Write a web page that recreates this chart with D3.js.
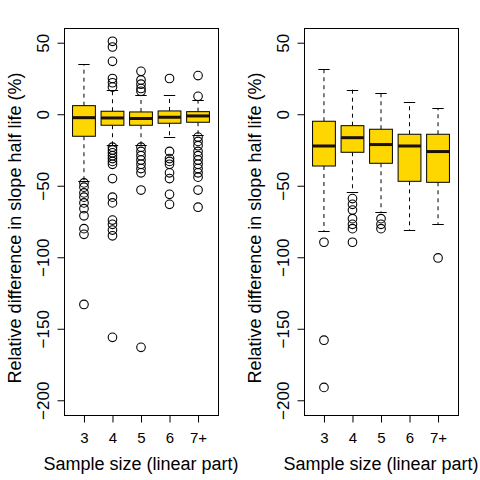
<!DOCTYPE html>
<html><head><meta charset="utf-8">
<script src="https://cdn.jsdelivr.net/npm/d3@7"></script>
<style>body{margin:0;background:#fff}svg{display:block}text{font-family:"Liberation Sans",Arial,sans-serif;fill:#000}</style>
</head><body><svg id="c" width="480" height="480"></svg>
<script>
const categories = ["3","4","5","6","7+"];
const yTicks = [-200,-150,-100,-50,0,50];
// [lower whisker, Q1, median, Q3, upper whisker]
const leftStats = [
  [-46.4,-15.4,-2.4,6.0,35],
  [-21.5,-7.7,-2.6,2.1,17],
  [-21.5,-7.7,-3.0,1.6,13.5],
  [-16.1,-6.3,-2.1,2.3,13.5],
  [-14.5,-5.6,-1.2,1.8,10]
];
const leftOutliers = [
  [-48,-51,-55,-58,-62,-66,-71,-80,-84,-133],
  [51,47,37,25,22,19,-23,-25,-27,-29,-31,-33,-35,-45,-58,-62,-74,-77,-81,-85,-156],
  [30,24,21,18,16,-23,-26,-29,-32,-35,-38,-41,-53,-163],
  [25,-26,-31,-33,-35,-41,-45,-56,-63],
  [27,12.5,-16,-19,-22,-26,-29,-32,-35,-38,-41,-44,-53,-65]
];
const rightStats = [
  [-81.6,-36.2,-22.2,-4.9,31.9],
  [-54.1,-26.6,-16.4,-8.0,17.2],
  [-68.5,-34.3,-21.2,-10.5,14.7],
  [-80.9,-46.9,-22.2,-14.0,8.6],
  [-76.7,-47.6,-26.1,-14.0,4.2]
];
const rightOutliers = [
  [-89.5,-158,-191],
  [-59,-63,-67,-73,-77,-80,-89.5],
  [-73,-77,-80],
  [],
  [-100.5]
];
const xTitle = "Sample size (linear part)";
const yTitle = "Relative difference in slope half life (%)";

const svg = d3.select("#c");
const fill = "#FFD700";

function panel(offsetX, stats, outliers) {
  const g = svg.append("g").attr("transform", `translate(${offsetX},0)`);
  const x = d3.scaleLinear().domain([0.3, 5.7]).range([64, 218]);
  const y = d3.scaleLinear().domain([-210.3, 60.3]).range([415, 28]);
  const bw = 0.4;
  const data = categories.map((c, i) => ({c, i: i + 1, s: stats[i], o: outliers[i]}));

  const b = g.selectAll("g.box").data(data).join("g").attr("class", "box");
  // whiskers
  b.append("line").attr("x1", d => x(d.i)).attr("x2", d => x(d.i))
    .attr("y1", d => y(d.s[3])).attr("y2", d => y(d.s[4]))
    .attr("stroke", "#000").attr("stroke-dasharray", "4,4");
  b.append("line").attr("x1", d => x(d.i)).attr("x2", d => x(d.i))
    .attr("y1", d => y(d.s[1])).attr("y2", d => y(d.s[0]))
    .attr("stroke", "#000").attr("stroke-dasharray", "4,4");
  // staples
  [0, 4].forEach(k => {
    b.append("line").attr("x1", d => x(d.i - bw / 2)).attr("x2", d => x(d.i + bw / 2))
      .attr("y1", d => Math.round(y(d.s[k])) + 0.5).attr("y2", d => Math.round(y(d.s[k])) + 0.5)
      .attr("stroke", "#000");
  });
  // box
  b.append("rect").attr("x", d => x(d.i - bw)).attr("width", d => x(d.i + bw) - x(d.i - bw))
    .attr("y", d => y(d.s[3])).attr("height", d => y(d.s[1]) - y(d.s[3]))
    .attr("fill", fill).attr("stroke", "#000").attr("stroke-width", 1);
  // median
  b.append("line").attr("x1", d => x(d.i - bw)).attr("x2", d => x(d.i + bw))
    .attr("y1", d => y(d.s[2])).attr("y2", d => y(d.s[2]))
    .attr("stroke", "#1a1000").attr("stroke-width", 3);
  // outliers
  b.selectAll("circle").data(d => d.o.map(v => ({i: d.i, v}))).join("circle")
    .attr("cx", d => x(d.i)).attr("cy", d => y(d.v)).attr("r", 4.3)
    .attr("fill", "none").attr("stroke", "#000").attr("stroke-width", 1.1);

  // frame
  g.append("rect").attr("x", 64.5).attr("y", 28.5).attr("width", 154).attr("height", 387)
    .attr("fill", "none").attr("stroke", "#000");

  // y axis
  const ya = g.append("g").attr("transform", "translate(64.5,0)")
    .call(d3.axisLeft(y).tickValues(yTicks).tickSize(7).tickFormat(d3.format("d")));
  ya.select(".domain").remove();
  ya.selectAll("text").attr("transform", "rotate(-90)").attr("x", 0).attr("y", -21)
    .attr("dy", "0.35em").attr("text-anchor", "middle").style("font-size", "17px");

  // x axis
  const xa = g.append("g").attr("transform", "translate(0,415.5)")
    .call(d3.axisBottom(x).tickValues(data.map(d => d.i)).tickSize(7).tickPadding(10)
      .tickFormat((v, i) => categories[i]));
  xa.select(".domain").remove();
  xa.selectAll("text").style("font-size", "15px");

  g.append("text").attr("x", 141).attr("y", 470).attr("text-anchor", "middle")
    .style("font-size", "18px").text(xTitle);
  g.append("text").attr("transform", "translate(21,228) rotate(-90)")
    .attr("text-anchor", "middle").style("font-size", "18px").text(yTitle);
}

panel(0, leftStats, leftOutliers);
panel(240, rightStats, rightOutliers);
</script></body></html>
